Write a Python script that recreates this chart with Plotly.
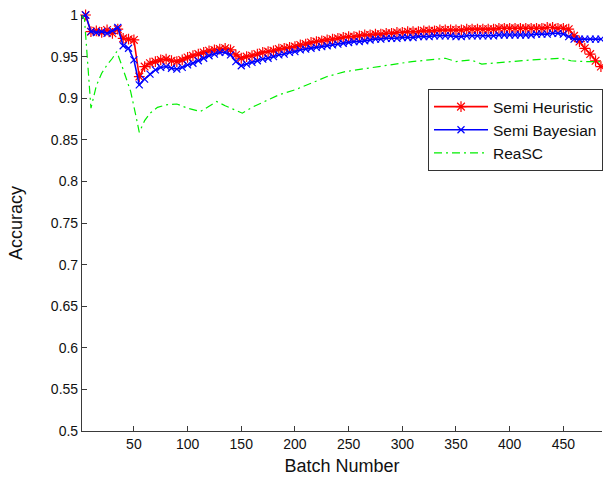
import plotly.graph_objects as go

batches = [1, 5, 10, 15, 20, 25, 30, 35, 40, 45, 50, 55, 60, 65, 70, 75, 80, 85, 90, 95,
           100, 105, 110, 115, 120, 125, 130, 135, 140, 145, 150, 155, 160, 165, 170, 175,
           180, 185, 190, 195, 200, 205, 210, 215, 220, 225, 230, 235, 240, 245, 250, 255,
           260, 265, 270, 275, 280, 285, 290, 295, 300, 305, 310, 315, 320, 325, 330, 335,
           340, 345, 350, 355, 360, 365, 370, 375, 380, 385, 390, 395, 400, 405, 410, 415,
           420, 425, 430, 435, 440, 445, 450, 455, 460, 465, 470, 475, 480, 485]

semi_heuristic = [1.000, 1.000, 0.980, 0.981, 0.979, 0.982, 0.978, 0.983, 0.972, 0.971,
                  0.970, 0.926, 0.938, 0.942, 0.944, 0.946, 0.947, 0.945, 0.944, 0.946,
                  0.949, 0.951, 0.953, 0.955, 0.957, 0.958, 0.959, 0.960, 0.958, 0.952,
                  0.948, 0.950, 0.951, 0.953, 0.955, 0.956, 0.957, 0.959, 0.960, 0.961,
                  0.962, 0.964, 0.965, 0.967, 0.968, 0.969, 0.970, 0.971, 0.972, 0.973,
                  0.974, 0.974, 0.975, 0.976, 0.976, 0.977, 0.977, 0.978, 0.978, 0.979,
                  0.979, 0.980, 0.980, 0.980, 0.981, 0.981, 0.981, 0.982, 0.982, 0.982,
                  0.982, 0.982, 0.983, 0.983, 0.983, 0.983, 0.983, 0.983, 0.984, 0.984,
                  0.984, 0.984, 0.984, 0.984, 0.984, 0.984, 0.984, 0.985, 0.985, 0.984,
                  0.984, 0.983, 0.975, 0.968, 0.960, 0.953, 0.945, 0.938]

semi_bayesian = [1.000, 1.000, 0.980, 0.979, 0.980, 0.978, 0.981, 0.985, 0.963, 0.960,
                 0.946, 0.916, 0.923, 0.929, 0.934, 0.937, 0.938, 0.936, 0.935, 0.937,
                 0.940, 0.942, 0.945, 0.948, 0.951, 0.953, 0.955, 0.955, 0.952, 0.944,
                 0.939, 0.941, 0.943, 0.945, 0.947, 0.948, 0.950, 0.952, 0.953, 0.955,
                 0.956, 0.958, 0.959, 0.960, 0.961, 0.962, 0.963, 0.964, 0.965, 0.966,
                 0.967, 0.968, 0.968, 0.969, 0.970, 0.971, 0.971, 0.972, 0.972, 0.972,
                 0.973, 0.973, 0.973, 0.974, 0.974, 0.974, 0.975, 0.975, 0.975, 0.975,
                 0.974, 0.974, 0.975, 0.975, 0.975, 0.975, 0.975, 0.975, 0.976, 0.976,
                 0.976, 0.976, 0.976, 0.976, 0.976, 0.977, 0.977, 0.977, 0.978, 0.978,
                 0.977, 0.974, 0.971, 0.971, 0.971, 0.971, 0.971, 0.971]

reasc_batches = [1, 4, 10, 15, 20, 25, 30, 34, 38, 42, 47, 52, 55, 60, 65, 72, 80, 90,
                 100, 112, 120, 127, 135, 143, 151, 160, 170, 185, 200, 216, 230, 247,
                 262, 278, 295, 309, 325, 340, 350, 357, 364, 374, 390, 402, 420, 433,
                 448, 457, 470, 485]
reasc = [1.000, 0.995, 0.888, 0.915, 0.930, 0.940, 0.948, 0.956, 0.942, 0.928,
         0.908, 0.878, 0.859, 0.873, 0.882, 0.889, 0.892, 0.893, 0.888, 0.884,
         0.890, 0.896, 0.891, 0.886, 0.882, 0.889, 0.895, 0.904, 0.910, 0.919,
         0.926, 0.932, 0.935, 0.938, 0.941, 0.944, 0.946, 0.948, 0.944, 0.945,
         0.946, 0.941, 0.943, 0.944, 0.946, 0.947, 0.948, 0.945, 0.944, 0.944]

x_ticks = [50, 100, 150, 200, 250, 300, 350, 400, 450]
y_ticks = [0.5, 0.55, 0.6, 0.65, 0.7, 0.75, 0.8, 0.85, 0.9, 0.95, 1.0]
y_tick_labels = ["0.5", "0.55", "0.6", "0.65", "0.7", "0.75", "0.8", "0.85", "0.9", "0.95", "1"]

FONT = "Liberation Sans, Arial, sans-serif"
AX = "#3a3a3a"

fig = go.Figure()
fig.add_trace(go.Scatter(
    x=batches, y=semi_heuristic, name="Semi Heuristic", mode="lines+markers",
    line=dict(color="#ff0000", width=1.6),
    marker=dict(symbol="asterisk-open", size=9, color="#ff0000",
                line=dict(color="#ff0000", width=1.2)),
    cliponaxis=False))
fig.add_trace(go.Scatter(
    x=batches, y=semi_bayesian, name="Semi Bayesian", mode="lines+markers",
    line=dict(color="#0000ff", width=1.6),
    marker=dict(symbol="x-thin-open", size=7, color="#0000ff",
                line=dict(color="#0000ff", width=1.2)),
    cliponaxis=False))
fig.add_trace(go.Scatter(
    x=reasc_batches, y=reasc, name="ReaSC", mode="lines",
    line=dict(color="#00ee00", width=1.2, dash="8px,4px,2px,4px"),
    cliponaxis=False))

fig.update_layout(
    width=603, height=485,
    margin=dict(l=82, r=0, t=15, b=54),
    paper_bgcolor="white", plot_bgcolor="white",
    font=dict(family=FONT, size=14, color="#111"),
    showlegend=True,
    legend=dict(x=0.666, y=0.822, xanchor="left", yanchor="top",
                bgcolor="white", bordercolor="#333", borderwidth=1,
                font=dict(family=FONT, size=15.5, color="#111"),
                itemwidth=54, tracegroupgap=0),
)
fig.update_xaxes(
    range=[1.66, 486], tickvals=x_ticks, ticks="inside", ticklen=5, tickcolor=AX,
    showline=True, linecolor=AX, linewidth=1.2, showgrid=False, zeroline=False,
    tickfont=dict(family=FONT, size=14, color="#111"),
    title=dict(text="Batch Number", font=dict(family=FONT, size=18, color="#111"), standoff=8),
)
fig.update_yaxes(
    range=[0.5, 1.0], tickvals=y_ticks, ticktext=y_tick_labels, ticks="inside", ticklen=5,
    tickcolor=AX, showline=True, linecolor=AX, linewidth=1.2, showgrid=False, zeroline=False,
    tickfont=dict(family=FONT, size=14, color="#111"),
    title=dict(text="Accuracy", font=dict(family=FONT, size=18, color="#111"), standoff=23),
)

fig.write_html("out.html", config={"displayModeBar": False},
               post_script="document.body.style.margin='0px';")
